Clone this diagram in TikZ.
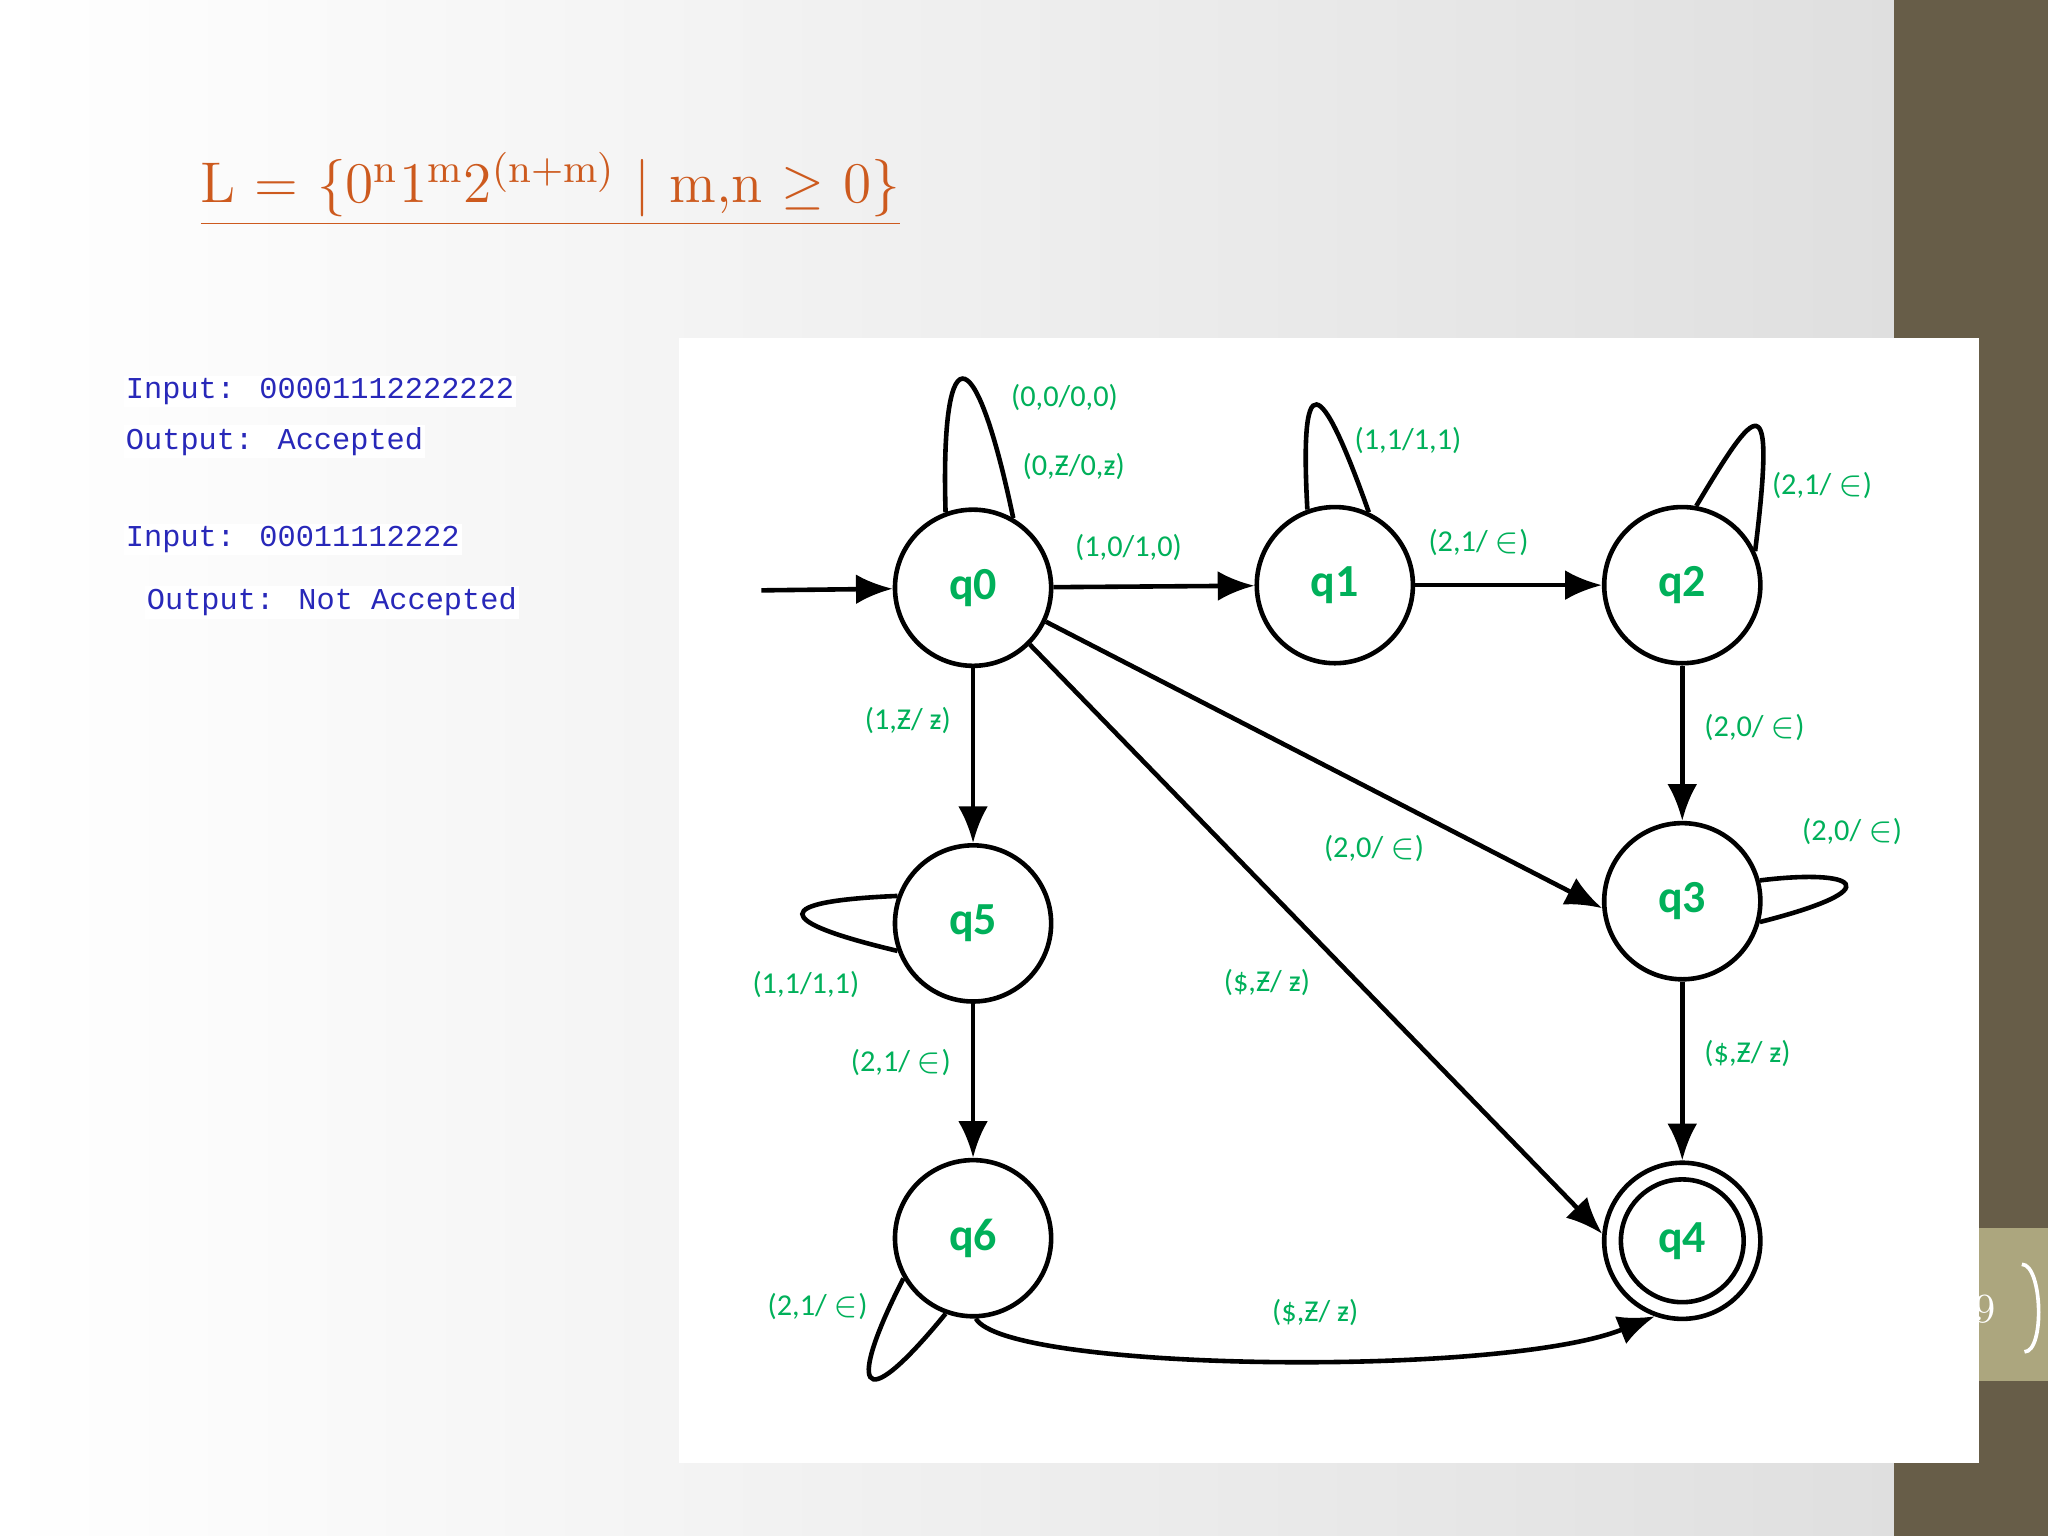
\documentclass[tikz,border=0pt]{standalone}
\usepackage{fontspec}
\newfontfamily\lab{Carlito}
\newfontfamily\mono{Liberation Mono}
\usetikzlibrary{arrows.meta,shadings}
\definecolor{grn}{RGB}{0,176,90}
\definecolor{org}{RGB}{205,90,30}
\definecolor{blu}{RGB}{40,40,185}
\definecolor{olv}{RGB}{103,93,72}
\definecolor{olvl}{RGB}{172,166,126}
\begin{document}
\begin{tikzpicture}[x=0.01cm,y=-0.01cm,
 st/.style={circle,draw,line width=1pt,minimum size=34pt,inner sep=0pt,font=\lab\bfseries\fontsize{10}{12}\selectfont,text=grn},
 lb/.style={font=\lab\fontsize{6.6}{8}\selectfont,text=grn},
 ar/.style={line width=1pt,-{Latex[length=8pt,width=6.5pt]}},
 ln/.style={line width=1pt},
 io/.style={font=\mono\fontsize{6.6}{8}\selectfont,text=blu,anchor=west,fill=white,inner sep=0.5pt}]
\useasboundingbox (0,0) rectangle (1568,1176);
\shade[left color=white,right color=gray!25] (0,0) rectangle (1450,1176);
\fill[olv] (1450,0) rectangle (1568,1176);
\fill[olvl] (1515,940) rectangle (1568,1057);
\node[text=white,font=\fontsize{9}{10}\selectfont] (pg) at (1520,1002) {9};
\draw[white,line width=0.8pt] (1548,968) to[out=0,in=0,looseness=0.6] (1550,1035);
\node[text=org,font=\fontsize{12.5}{15}\selectfont,anchor=west,inner sep=0pt] (title) at (153,145)
 {\underline{L = \{0\textsuperscript{n}1\textsuperscript{m}2\textsuperscript{(n+m)} | m,n $\geq$ 0\}}};
\node[io] (i1) at (94,300) {Input: 00001112222222};
\node[io] (o1) at (94,338) {Output: Accepted};
\node[io] (i2) at (94,413) {Input: 00011112222};
\node[io] (o2) at (110,461) {Output: Not Accepted};
\fill[white] (520,259) rectangle (1515,1120);
\node[st] (q0) at (745,450) {q0};
\node[st] (q1) at (1022,448) {q1};
\node[st] (q2) at (1288,448) {q2};
\node[st] (q3) at (1288,690) {q3};
\node[st] (q4) at (1288,950) {q4};
\draw[ln] (q4.center) circle[radius=47];
\node[st] (q5) at (745,707) {q5};
\node[st] (q6) at (745,948) {q6};
\coordinate (s) at (583,452);
\draw[ar] (s) -- (q0);
\draw[ar] (q0) -- (q1);
\node[lb] (l01) at (864,419) {(1,0/1,0)};
\draw[ar] (q1) -- (q2);
\node[lb] (l12) at (1132,415) {(2,1/ $\in$)};
\draw[ar] (q2) -- (q3) node[lb,pos=0.4,right=1pt] {(2,0/ $\in$)};
\draw[ar] (q3) -- (q4) node[lb,pos=0.4,right=1pt] {(\$,Ƶ/ ƶ)};
\draw[ar] (q0) -- (q5) node[lb,midway,left=1pt,pos=0.3] {(1,Ƶ/ ƶ)};
\draw[ar] (q5) -- (q6) node[lb,left=1pt,pos=0.38] {(2,1/ $\in$)};
\draw[ar] (q0.-25) -- (q3.185);
\node[lb] (l03) at (1052,650) {(2,0/ $\in$)};
\draw[ar] (q0.-45) -- (q4.175);
\node[lb] (l04) at (970,752) {(\$,Ƶ/ ƶ)};
\draw[ar] (q6.-88) .. controls (770,1050) and (1150,1055) .. (q4.-110);
\node[lb] (l64) at (1007,1005) {(\$,Ƶ/ ƶ)};
% loops
\draw[ln] (q0.110) .. controls (720,260) and (745,250) .. (q0.60);
\node[lb] (l0a) at (815,304) {(0,0/0,0)};
\node[lb] (l0b) at (822,357) {(0,Ƶ/0,ƶ)};
\draw[ln] (q1.110) .. controls (995,280) and (1010,285) .. (q1.65);
\node[lb] (l1) at (1078,337) {(1,1/1,1)};
\draw[ln] (q2.80) .. controls (1345,310) and (1360,290) .. (q2.25);
\node[lb] (l2) at (1395,372) {(2,1/ $\in$)};
\draw[ln] (q3.15) .. controls (1420,665) and (1450,680) .. (q3.-15);
\node[lb] (l3) at (1418,637) {(2,0/ $\in$)};
\draw[ln] (q5.160) .. controls (590,690) and (590,705) .. (q5.200);
\node[lb] (l5) at (617,754) {(1,1/1,1)};
\draw[ln] (q6.210) .. controls (650,1060) and (655,1090) .. (q6.250);
\node[lb] (l6) at (626,1000) {(2,1/ $\in$)};
\end{tikzpicture}
\end{document}
